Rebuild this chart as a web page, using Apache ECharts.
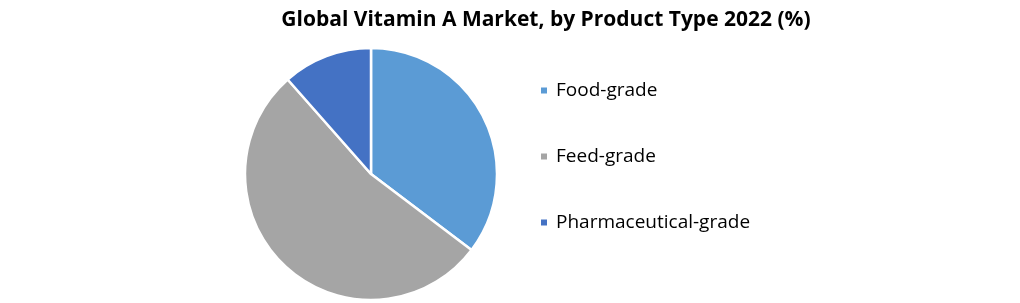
<!DOCTYPE html>
<html><head><meta charset="utf-8">
<script src="https://cdn.jsdelivr.net/npm/echarts@6/dist/echarts.min.js"></script>
<style>html,body{margin:0;padding:0;background:#fff}#c{width:1020px;height:303px}</style>
</head><body><div id="c"></div>
<script>
const categories = ['Food-grade', 'Feed-grade', 'Pharmaceutical-grade'];
const shares = [35.3, 53.2, 11.5];
const colors = ['#5B9BD5', '#A5A5A5', '#4472C4'];
const titleText = 'Global Vitamin A Market, by Product Type 2022 (%)';

const chart = echarts.init(document.getElementById('c'), null, {renderer: 'canvas'});
chart.setOption({
  animation: false,
  color: colors,
  title: {
    text: titleText,
    left: 541, top: 5, textAlign: 'center',
    textStyle: {fontFamily: 'Open Sans', fontWeight: 'bold', fontSize: 21, color: '#000'}
  },
  legend: {
    orient: 'vertical', left: 539, top: 81, padding: 0,
    itemWidth: 8, itemHeight: 8, itemGap: 47, icon: 'rect',
    textStyle: {fontFamily: 'Open Sans', fontSize: 19, color: '#000', padding: [0,0,0,3]},
    data: categories
  },
  series: [{
    type: 'pie',
    center: [371, 174], radius: 126,
    startAngle: 90, clockwise: true,
    label: {show: false}, labelLine: {show: false},
    itemStyle: {borderColor: '#fff', borderWidth: 2.5},
    emphasis: {disabled: true},
    data: categories.map((n, i) => ({name: n, value: shares[i]}))
  }]
});
</script></body></html>
